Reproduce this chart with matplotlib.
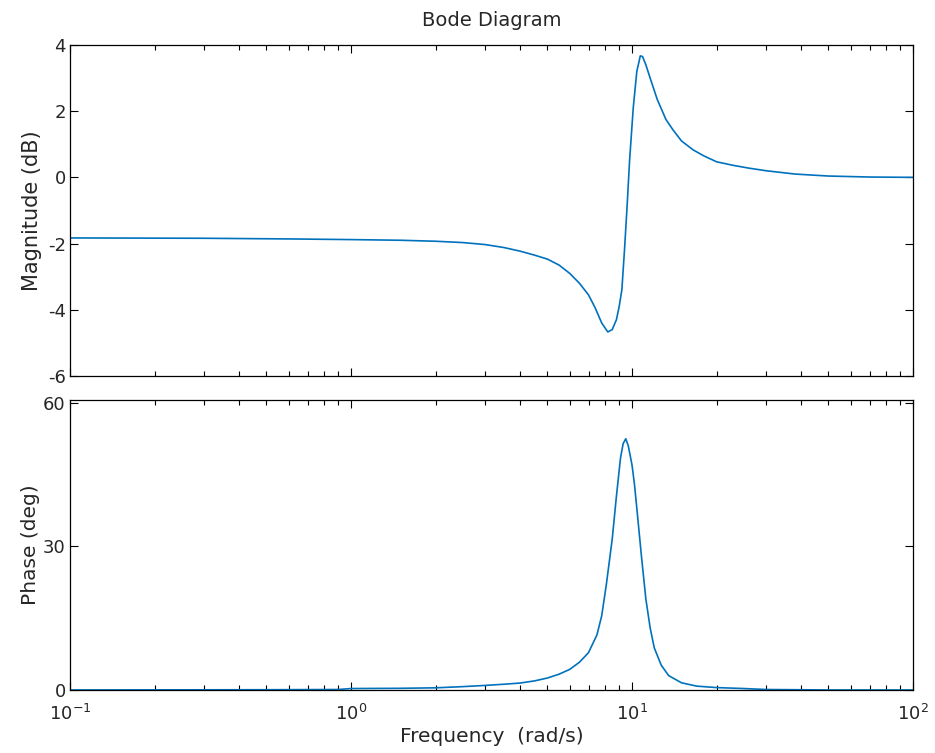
import numpy as np
import matplotlib
matplotlib.use('Agg')
import matplotlib.pyplot as plt
from matplotlib.ticker import LogLocator, NullFormatter

# magnitude (rad/s, dB)
mag_w = [0.1, 0.3, 0.6, 1.0, 1.5, 2.0, 2.5, 3.0, 3.5, 4.0, 4.5, 5.0, 5.5, 6.0,
         6.5, 7.0, 7.4, 7.8, 8.2, 8.5, 8.8, 9.0, 9.2, 9.4, 9.6, 9.8, 10.1, 10.4,
         10.7, 10.9, 11.2, 11.6, 12.3, 13.2, 14.0, 15.0, 16.5, 18.0, 20.0, 23.0,
         26.0, 30.0, 38.0, 50.0, 70.0, 100.0]
mag_db = [-1.83, -1.84, -1.86, -1.88, -1.90, -1.93, -1.97, -2.03, -2.12, -2.23,
          -2.35, -2.47, -2.65, -2.90, -3.20, -3.55, -3.95, -4.40, -4.67, -4.60,
          -4.30, -3.90, -3.40, -2.20, -0.90, 0.50, 2.10, 3.20, 3.67, 3.65, 3.40,
          3.00, 2.35, 1.75, 1.43, 1.10, 0.83, 0.65, 0.47, 0.36, 0.28, 0.20, 0.10,
          0.04, 0.01, 0.0]

# phase (rad/s, deg)
ph_w = [0.1, 0.5, 0.9, 1.0, 1.5, 2.0, 2.5, 3.0, 3.5, 4.0, 4.5, 5.0, 5.5, 6.0,
        6.5, 7.0, 7.5, 7.8, 8.1, 8.5, 8.8, 9.1, 9.3, 9.5, 9.7, 10.0, 10.2, 10.4,
        10.8, 11.2, 11.6, 12.0, 12.7, 13.5, 15.0, 17.0, 20.0, 25.0, 30.0, 50.0,
        100.0]
ph_deg = [0.0, 0.05, 0.1, 0.3, 0.35, 0.45, 0.7, 0.95, 1.2, 1.45, 1.9, 2.5, 3.3,
          4.3, 5.8, 7.8, 11.5, 15.5, 22.0, 31.5, 40.5, 48.5, 51.5, 52.5, 51.0,
          47.0, 43.0, 38.0, 28.0, 19.0, 13.0, 8.8, 5.2, 3.0, 1.5, 0.8, 0.5, 0.3,
          0.1, 0.0, 0.0]

mag_ticks = [-6, -4, -2, 0, 2, 4]
ph_ticks = [0, 30, 60]

blue = '#0072BD'
txt = '#262626'
plt.rcParams['font.family'] = 'DejaVu Sans'

fig = plt.figure(figsize=(9.35, 7.53), dpi=100)
ax1 = fig.add_axes([0.0749, 0.5007, 0.9016, 0.4396])
ax2 = fig.add_axes([0.0749, 0.0837, 0.9016, 0.3851])

ax1.plot(mag_w, mag_db, color=blue, lw=1.2)
ax2.plot(ph_w, ph_deg, color=blue, lw=1.2)

for ax in (ax1, ax2):
    ax.set_xscale('log')
    ax.set_xlim(0.1, 100)
    ax.xaxis.set_major_locator(LogLocator(base=10, numticks=10))
    ax.xaxis.set_minor_locator(LogLocator(base=10, subs=np.arange(2, 10), numticks=10))
    ax.xaxis.set_minor_formatter(NullFormatter())
    ax.tick_params(which='both', direction='in', top=True, right=True,
                   labelsize=13, width=0.8, color='black', labelcolor=txt)
    ax.tick_params(which='major', length=6)
    ax.tick_params(which='minor', length=3.5)
    ax.tick_params(axis='y', pad=3)
    ax.tick_params(axis='x', pad=10)
    for s in ax.spines.values():
        s.set_linewidth(0.9)

ax1.set_ylim(-6, 4)
ax1.set_yticks(mag_ticks)
ax1.set_yticklabels([str(t) for t in mag_ticks])
ax1.tick_params(labelbottom=False)
ax1.set_ylabel('Magnitude (dB)', fontsize=15, labelpad=4, color=txt)
ax1.set_title('Bode Diagram', fontsize=14, pad=14, color=txt)

ax2.set_ylim(0, 60.6)
ax2.set_yticks(ph_ticks)
ax2.set_yticklabels([str(t) for t in ph_ticks])
ax2.set_ylabel('Phase (deg)', fontsize=14.5, labelpad=2, color=txt)
ax2.set_xlabel('Frequency  (rad/s)', fontsize=14.5, labelpad=2, color=txt)

fig.savefig('out.png', dpi=100)
